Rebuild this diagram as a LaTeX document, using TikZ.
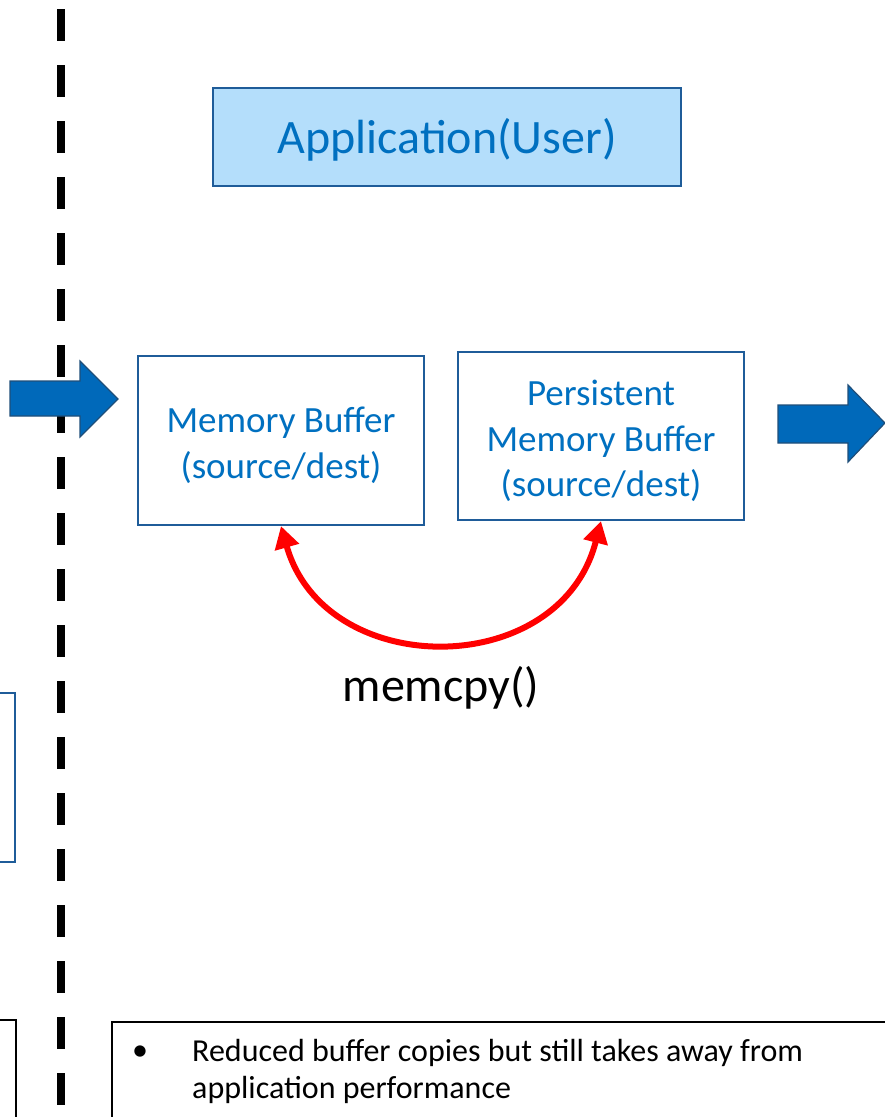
\documentclass[tikz,border=0pt]{standalone}
\usepackage{fontspec}
\setmainfont{Carlito}
\usetikzlibrary{arrows.meta}
\definecolor{txtblue}{HTML}{0070C0}
\definecolor{boxblue}{HTML}{1F5C99}
\definecolor{fillblue}{HTML}{B4DEFB}
\definecolor{arrowblue}{HTML}{0069BA}
\definecolor{arrowedge}{HTML}{1F4E79}
\begin{document}
\begin{tikzpicture}[x=1pt,y=-1pt,
  bufbox/.style={draw=boxblue,line width=2.2pt,fill=white,text=txtblue,align=center,inner sep=0pt,font=\fontsize{37}{45.5}\selectfont},
  plainbox/.style={draw=black,line width=1.3pt},
  bluebox/.style={draw=boxblue,line width=2.2pt},
  bigarrow/.style={fill=arrowblue,draw=arrowedge,line width=1.2pt,line join=miter}]
\useasboundingbox (0,0) rectangle (885,1117);
% dashed divider
\coordinate (dtop) at (61,9);
\coordinate (dbot) at (61,1130);
\draw[line width=8pt,dash pattern=on 32pt off 24pt] (dtop) -- (dbot);
% application box
\node[draw=boxblue,line width=2pt,fill=fillblue,minimum width=468pt,minimum height=98pt,inner sep=0pt] (app) at (447,137) {};
\node[text=txtblue,font=\fontsize{48}{56}\selectfont,inner sep=0pt] (apptext) at (447,140) {Application(User)};
% left partial boxes
\draw[bluebox] (-5,693) -- (15,693) -- (15,862) -- (-5,862);
\draw[plainbox] (-5,1020) -- (16,1020) -- (16,1125);
% left arrow
\draw[bigarrow] (10,381) -- (80,381) -- (80,361) -- (118,399) -- (80,437) -- (80,416) -- (10,416) -- cycle;
% buffers
\node[bufbox,minimum width=286pt,minimum height=169pt] (mem) at (281,440.5) {};
\node[bufbox,minimum width=286pt,minimum height=168pt] (pmem) at (601,436) {};
\node[text=txtblue,align=center,inner sep=0pt,font=\fontsize{37}{45.5}\selectfont] (memtext) at (281,445.5) {Memory Buffer\\(source/dest)};
\node[text=txtblue,align=center,inner sep=0pt,font=\fontsize{37}{45.5}\selectfont] (pmemtext) at (601,441) {Persistent\\Memory Buffer\\(source/dest)};
% right arrow
\draw[bigarrow] (778,405) -- (848,405) -- (848,385) -- (885,423) -- (848,462) -- (848,443) -- (778,443) -- cycle;
% memcpy arc
\draw[red,line width=6pt,{Triangle[length=22pt,width=24pt]}-{Triangle[length=22pt,width=24pt]}]
  (mem.south) .. controls (325,681) and (560,681) .. (pmem.south);
\node[font=\fontsize{48}{56}\selectfont] (memcpy) at (441,688) {memcpy()};
% bottom note
\draw[plainbox] (112,1125) -- (112,1022) -- (890,1022);
\node[anchor=north west,font=\fontsize{32}{37}\selectfont,align=left,inner sep=0pt] (bullet) at (132,1046) {\textbullet};
\node[anchor=north west,font=\fontsize{32}{37}\selectfont,align=left,inner sep=0pt] (note) at (192,1039) {Reduced buffer copies but still takes away from\\application performance};
\end{tikzpicture}
\end{document}
